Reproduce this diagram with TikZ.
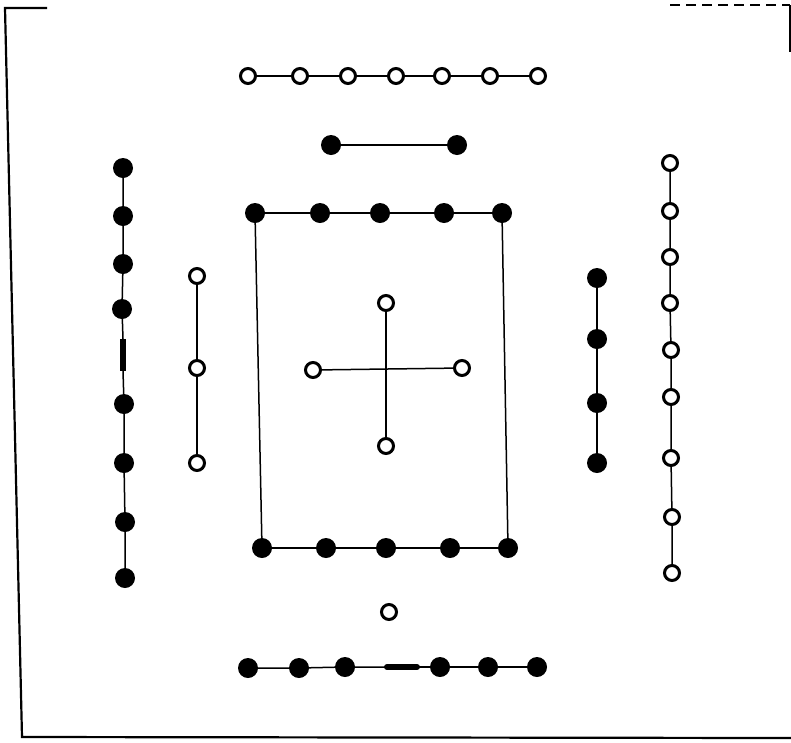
\documentclass[tikz,border=0pt]{standalone}
\begin{document}
\begin{tikzpicture}[x=1pt,y=-1pt,
  wdot/.style={circle,draw=black,fill=white,line width=3pt,minimum size=15pt,inner sep=0pt},
  bdot/.style={circle,draw=none,fill=black,minimum size=20pt,inner sep=0pt},
  link/.style={line width=1.5pt},
  frame/.style={line width=2.2pt}]
\useasboundingbox (0,0) rectangle (791,742);
\fill[white] (0,0) rectangle (791,742);
% frame
\coordinate (f1) at (47,8);
\coordinate (f2) at (5,8);
\coordinate (f3) at (22,737);
\coordinate (f4) at (791,738);
\draw[frame] (f1) -- (f2) -- (f3) -- (f4);
\coordinate (t1) at (670,5);
\coordinate (t2) at (790,5);
\coordinate (t3) at (790,52);
\draw[frame,dash pattern=on 10pt off 6pt] (t1) -- (t2);
\draw[frame] (t2) -- (t3);
% top white row
\foreach \x [count=\i] in {248,300,348,396,442,490,538}
  \node[wdot] (tw\i) at (\x,76) {};
\foreach \i [evaluate=\i as \j using int(\i+1)] in {1,...,6}
  \draw[link] (tw\i) -- (tw\j);
% pair of black
\node[bdot] (p1) at (331,145) {};
\node[bdot] (p2) at (457,145) {};
\draw[link] (p1) -- (p2);
% left black column
\node[bdot] (l1) at (123,168) {};
\node[bdot] (l2) at (123,216) {};
\node[bdot] (l3) at (123,264) {};
\node[bdot] (l4) at (122,309) {};
\node[bdot] (l6) at (124,404) {};
\node[bdot] (l7) at (124,463) {};
\node[bdot] (l8) at (125,522) {};
\node[bdot] (l9) at (125,578) {};
\coordinate (lb1) at (123,339);
\coordinate (lb2) at (123,371);
\draw[link] (l1) -- (l2) -- (l3) -- (l4) -- (lb1);
\draw[line width=6pt] (lb1) -- (lb2);
\draw[link] (lb2) -- (l6) -- (l7) -- (l8) -- (l9);
% inner left white
\node[wdot] (iw1) at (197,276) {};
\node[wdot] (iw2) at (197,368) {};
\node[wdot] (iw3) at (197,463) {};
\draw[link] (iw1) -- (iw2) -- (iw3);
% central square
\foreach \x [count=\i] in {255,320,380,444,502}
  \node[bdot] (sq\i) at (\x,213) {};
\foreach \x [count=\i] in {262,326,386,450,508}
  \node[bdot] (sb\i) at (\x,548) {};
\foreach \i [evaluate=\i as \j using int(\i+1)] in {1,...,4}{
  \draw[link] (sq\i) -- (sq\j);
  \draw[link] (sb\i) -- (sb\j);}
\draw[link] (sq1) -- (sb1);
\draw[link] (sq5) -- (sb5);
% cross
\node[wdot] (ct) at (386,303) {};
\node[wdot] (cl) at (313,370) {};
\node[wdot] (cr) at (462,368) {};
\node[wdot] (cb) at (386,446) {};
\draw[link] (cl) -- (cr);
\draw[link] (ct) -- (cb);
% inner right black
\node[bdot] (r1) at (597,278) {};
\node[bdot] (r2) at (597,339) {};
\node[bdot] (r3) at (597,403) {};
\node[bdot] (r4) at (597,463) {};
\draw[link] (r1) -- (r2) -- (r3) -- (r4);
% right white column
\node[wdot] (rw1) at (670,163) {};
\node[wdot] (rw2) at (670,211) {};
\node[wdot] (rw3) at (670,257) {};
\node[wdot] (rw4) at (670,303) {};
\node[wdot] (rw5) at (671,350) {};
\node[wdot] (rw6) at (671,397) {};
\node[wdot] (rw7) at (671,458) {};
\node[wdot] (rw8) at (672,517) {};
\node[wdot] (rw9) at (672,573) {};
\draw[link] (rw1) -- (rw2) -- (rw3) -- (rw4) -- (rw5) -- (rw6) -- (rw7) -- (rw8) -- (rw9);
% single white
\node[wdot] (sw) at (389,612) {};
% bottom black row
\node[bdot] (bb1) at (248,668) {};
\node[bdot] (bb2) at (299,668) {};
\node[bdot] (bb3) at (345,667) {};
\node[bdot] (bb5) at (440,667) {};
\node[bdot] (bb6) at (488,667) {};
\node[bdot] (bb7) at (537,667) {};
\coordinate (bx1) at (387,667);
\coordinate (bx2) at (417,667);
\draw[link] (bb1) -- (bb2) -- (bb3) -- (bx1);
\draw[line width=6pt,line cap=round] (bx1) -- (bx2);
\draw[link] (bx2) -- (bb5) -- (bb6) -- (bb7);
\end{tikzpicture}
\end{document}
